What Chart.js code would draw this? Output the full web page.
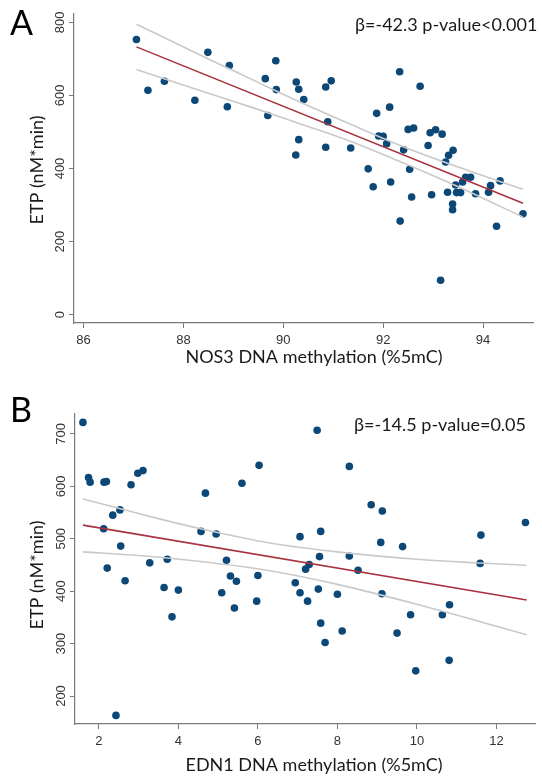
<!DOCTYPE html>
<html>
<head>
<meta charset="utf-8">
<script src="https://cdn.jsdelivr.net/npm/chart.js@4.4.0/dist/chart.umd.min.js"></script>
<style>
  body { margin: 0; background: #fff; }
  .panel { position: absolute; left: 0; }
  #panelA { top: 0; }
  #panelB { top: 390px; }
</style>
</head>
<body>
<div class="panel" id="panelA"><canvas id="chartA" width="542" height="390"></canvas></div>
<div class="panel" id="panelB"><canvas id="chartB" width="542" height="387"></canvas></div>
<script>
// Panel A - NOS3 methylation vs ETP
const nos3Meth = [87.06, 87.29, 87.62, 88.23, 88.49, 88.92, 88.88, 89.64, 89.85, 89.86, 89.69,
  90.26, 90.31, 90.31, 90.25, 90.41, 90.85, 90.96, 90.89, 90.85, 91.35, 92.33, 92.74, 91.87,
  92.13, 92.50, 92.61, 91.91, 92.00, 92.07, 92.41, 92.94, 93.05, 93.18, 92.90, 91.70, 92.53,
  91.80, 92.15, 92.57, 92.97, 93.31, 93.40, 93.25, 93.45, 93.59, 93.65, 93.75, 93.29, 93.47,
  93.55, 93.85, 94.11, 94.15, 94.34, 93.39, 93.39, 92.34, 94.27, 94.80, 93.15];
const etpA = [753, 614, 639, 587, 718, 682, 569, 646, 695, 616, 545,
  637, 617, 479, 437, 589, 623, 640, 528, 458, 456, 665, 625, 551,
  568, 507, 511, 489, 488, 468, 451, 498, 506, 494, 463, 399, 398,
  350, 363, 322, 328, 436, 450, 418, 355, 363, 376, 376, 335, 334,
  334, 331, 335, 353, 366, 303, 287, 256, 242, 276, 94];
const fitXA = [87.06, 94.80];
const fitYA = [733, 305];
const bandXA = [87.06, 88.5, 89.4, 90.3, 91.2, 92.3, 93.5, 94.8];
const bandUpA = [795, 700, 642, 584, 530, 465, 404, 343];
const bandLoA = [671, 606, 566, 524, 482, 421, 350, 267];
const xTicksA = [86, 88, 90, 92, 94];
const yTicksA = [0, 200, 400, 600, 800];

// Panel B - EDN1 methylation vs ETP
const edn1Meth = [1.60, 1.74, 1.78, 2.13, 2.19, 2.81, 2.98, 3.11, 2.35, 2.53, 2.12, 2.55, 2.21,
  3.28, 3.72, 2.66, 4.57, 4.95, 4.68, 5.60, 6.03, 5.21, 5.31, 5.46, 6.00, 7.06, 3.64, 4.00,
  3.84, 2.43, 5.09, 5.41, 5.97, 6.94, 7.06, 7.49, 8.30, 8.85, 9.13, 7.58, 9.09, 9.64, 11.61,
  12.73, 11.59, 7.55, 8.30, 7.29, 7.20, 8.52, 7.52, 7.25, 8.00, 9.12, 7.58, 8.12, 9.50, 9.84,
  10.64, 10.82, 7.69, 9.97, 10.81];
const etpB = [722, 617, 608, 608, 609, 603, 625, 630, 545, 555, 519, 486, 444,
  454, 461, 420, 514, 509, 587, 606, 640, 459, 429, 419, 430, 504, 407, 402,
  351, 163, 397, 368, 381, 416, 397, 707, 638, 565, 553, 514, 493, 485, 507,
  531, 453, 466, 467, 451, 442, 440, 404, 381, 394, 395, 339, 324, 320, 355,
  355, 374, 302, 248, 268];
const fitXB = [1.60, 12.76];
const fitYB = [526, 383];
const bandXB = [1.6, 3.0, 4.5, 6.3, 8.0, 10.0, 12.76];
const bandUpB = [576, 548, 520, 492, 475, 461, 449];
const bandLoB = [475, 468, 457, 439, 413, 375, 317];
const xTicksB = [2, 4, 6, 8, 10, 12];
const yTicksB = [200, 300, 400, 500, 600, 700];

const zip = (xs, ys) => xs.map((x, i) => ({ x: x, y: ys[i] }));

const axisGrey = '#7a7a7a';
const tickFont = { family: 'Liberation Sans', size: 13 };
const titleFamily = 'Lato';

// draws the panel letter, the stats text, axis titles and rotated y tick labels
const panelText = {
  id: 'panelText',
  afterDraw(chart, args, o) {
    const ctx = chart.ctx;
    const ys = chart.scales.y;
    ctx.save();
    ctx.fillStyle = '#333';
    ctx.font = '13px "Liberation Sans"';
    ctx.textAlign = 'center';
    ctx.textBaseline = 'middle';
    ys.ticks.forEach(t => {
      ctx.save();
      ctx.translate(o.yTickX, ys.getPixelForValue(t.value));
      ctx.rotate(-Math.PI / 2);
      ctx.fillText(String(t.value), 0, 0);
      ctx.restore();
    });

    ctx.fillStyle = '#1a1a1a';
    ctx.font = '18px ' + titleFamily;
    ctx.fillText(o.xTitle, o.xTitleX, o.xTitleY);
    ctx.save();
    ctx.translate(o.yTitleX, o.yTitleY);
    ctx.rotate(-Math.PI / 2);
    ctx.fillText(o.yTitle, 0, 0);
    ctx.restore();

    ctx.textAlign = 'left';
    ctx.fillText(o.stats, o.statsX, o.statsY);

    ctx.font = '34px ' + titleFamily;
    ctx.fillStyle = '#000';
    ctx.fillText(o.letter, o.letterX, o.letterY);
    ctx.restore();
  }
};

function makePanel(id, cfg) {
  const lines = [
    { data: zip(cfg.bandX, cfg.bandUp), color: '#c9c9c9', width: 1.6, tension: 0.4 },
    { data: zip(cfg.bandX, cfg.bandLo), color: '#c9c9c9', width: 1.6, tension: 0.4 },
    { data: zip(cfg.fitX, cfg.fitY), color: '#a8323e', width: 1.6, tension: 0 }
  ].map(l => ({
    type: 'line',
    data: l.data,
    borderColor: l.color,
    borderWidth: l.width,
    pointRadius: 0,
    fill: false,
    tension: l.tension,
    cubicInterpolationMode: l.tension ? 'monotone' : 'default'
  }));

  new Chart(document.getElementById(id), {
    type: 'scatter',
    data: {
      datasets: lines.concat([{
        data: zip(cfg.px, cfg.py),
        backgroundColor: '#0b4877',
        borderColor: '#0b4877',
        borderWidth: 0,
        pointRadius: 3.8
      }])
    },
    options: {
      responsive: false,
      animation: false,
      devicePixelRatio: 1,
      layout: { padding: cfg.padding },
      plugins: {
        legend: { display: false },
        tooltip: { enabled: false },
        panelText: cfg.text
      },
      scales: {
        x: {
          type: 'linear',
          min: cfg.xMin,
          max: cfg.xMax,
          afterBuildTicks: s => { s.ticks = cfg.xTicks.map(v => ({ value: v })); },
          afterFit: s => { s.height = cfg.xHeight; },
          grid: { display: true, drawOnChartArea: false, drawTicks: true, tickLength: 5, color: axisGrey },
          border: { display: true, color: axisGrey, width: 1.2 },
          ticks: { font: tickFont, color: '#333', padding: 5, maxRotation: 0 }
        },
        y: {
          type: 'linear',
          min: cfg.yMin,
          max: cfg.yMax,
          afterBuildTicks: s => { s.ticks = cfg.yTicks.map(v => ({ value: v })); },
          afterFit: s => { s.width = cfg.yWidth; },
          grid: { display: true, drawOnChartArea: false, drawTicks: true, tickLength: 5, color: axisGrey },
          border: { display: true, color: axisGrey, width: 1.2 },
          ticks: { display: false }
        }
      }
    },
    plugins: [panelText]
  });
}

makePanel('chartA', {
  px: nos3Meth, py: etpA, fitX: fitXA, fitY: fitYA,
  bandX: bandXA, bandUp: bandUpA, bandLo: bandLoA,
  xTicks: xTicksA, yTicks: yTicksA,
  xMin: 85.81, xMax: 95.0, yMin: -23, yMax: 823,
  padding: { top: 14, right: 9, left: 0, bottom: 0 },
  xHeight: 67, yWidth: 74,
  text: {
    letter: 'A', letterX: 10, letterY: 24,
    stats: 'β=-42.3 p-value<0.001', statsX: 355, statsY: 25,
    xTitle: 'NOS3 DNA methylation (%5mC)', xTitleX: 314, xTitleY: 357,
    yTitle: 'ETP (nM*min)', yTitleX: 37, yTitleY: 170,
    yTickX: 60
  }
});

makePanel('chartB', {
  px: edn1Meth, py: etpB, fitX: fitXB, fitY: fitYB,
  bandX: bandXB, bandUp: bandUpB, bandLo: bandLoB,
  xTicks: xTicksB, yTicks: yTicksB,
  xMin: 1.4, xMax: 12.97, yMin: 146.6, yMax: 738,
  padding: { top: 24, right: 7, left: 0, bottom: 0 },
  xHeight: 53, yWidth: 75,
  text: {
    letter: 'B', letterX: 10, letterY: 21,
    stats: 'β=-14.5 p-value=0.05', statsX: 354, statsY: 35,
    xTitle: 'EDN1 DNA methylation (%5mC)', xTitleX: 314, xTitleY: 375,
    yTitle: 'ETP (nM*min)', yTitleX: 37, yTitleY: 185,
    yTickX: 61
  }
});
</script>
</body>
</html>
